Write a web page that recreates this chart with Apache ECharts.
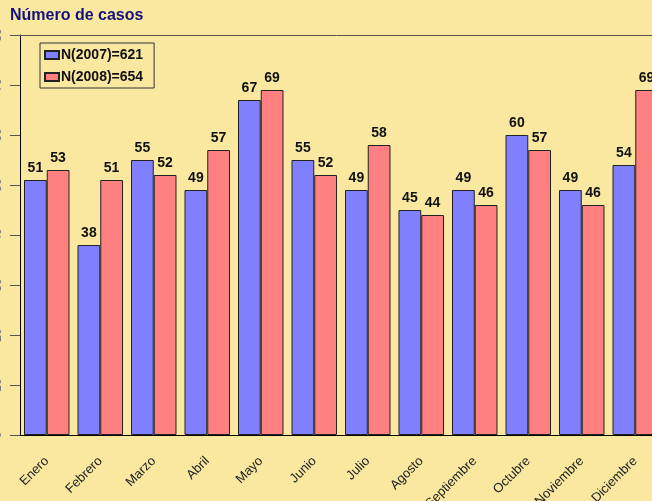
<!DOCTYPE html>
<html>
<head>
<meta charset="utf-8">
<script src="https://cdn.jsdelivr.net/npm/echarts@6/dist/echarts.min.js"></script>
<style>
html,body{margin:0;padding:0;background:#FAE8A0;}
#c{width:652px;height:501px;}
</style>
</head>
<body>
<div id="c"></div>
<script>
const categories = ['Enero','Febrero','Marzo','Abril','Mayo','Junio','Julio','Agosto','Septiembre','Octubre','Noviembre','Diciembre'];
const casos2007 = [51,38,55,49,67,55,49,45,49,60,49,54];
const casos2008 = [53,51,52,57,69,52,58,44,46,57,46,69];
const seriesNames = ['N(2007)=621','N(2008)=654'];
const yTicks = {min:0, max:80, interval:10};

const FONT = '"Liberation Sans", Arial, sans-serif';
const chart = echarts.init(document.getElementById('c'), null, {renderer:'canvas'});
const barLabel = {show:true, position:'top', distance:5, fontFamily:FONT, fontWeight:'bold', fontSize:14, color:'#111'};
chart.setOption({
  backgroundColor:'#FAE8A0',
  animation:false,
  title:{text:'Número de casos', left:10, top:8, padding:0, textStyle:{fontFamily:FONT, fontWeight:'bold', fontSize:16, color:'#12127f'}},
  legend:{
    orient:'vertical', left:40, top:43, padding:[5,11,4,4], itemGap:8,
    itemWidth:14, itemHeight:8, icon:'rect', borderColor:'#333', borderWidth:1,
    textStyle:{fontFamily:FONT, fontWeight:'bold', fontSize:14, color:'#111', lineHeight:14, padding:[0,0,0,-3]},
    data:seriesNames
  },
  grid:{left:20, top:35, width:642, height:400, containLabel:false, outerBoundsMode:'none'},
  xAxis:{
    type:'category', data:categories,
    axisLine:{lineStyle:{color:'#000', width:1}},
    axisTick:{alignWithLabel:true, length:9, lineStyle:{color:'#55554a'}},
    axisLabel:{rotate:45, margin:24, fontFamily:FONT, fontSize:13, color:'#222', interval:0}
  },
  yAxis:{
    type:'value', min:yTicks.min, max:yTicks.max, interval:yTicks.interval,
    axisLine:{show:true, lineStyle:{color:'#000', width:1}},
    axisTick:{show:true, length:10, lineStyle:{color:'#55554a'}},
    axisLabel:{rotate:90, margin:16, fontFamily:FONT, fontSize:12, color:'#777'},
    splitLine:{show:false}
  },
  series:[
    {name:seriesNames[0], type:'bar', data:casos2007, barGap:'0%', barCategoryGap:'15%',
     itemStyle:{color:'#8080FF', borderColor:'#222', borderWidth:1}, label:barLabel,
     markLine:{silent:true, symbol:'none', label:{show:false}, lineStyle:{color:'#55554a', type:'solid', width:1}, data:[{yAxis:yTicks.max}]}},
    {name:seriesNames[1], type:'bar', data:casos2008,
     itemStyle:{color:'#FF8080', borderColor:'#222', borderWidth:1}, label:barLabel}
  ]
});
</script>
</body>
</html>
